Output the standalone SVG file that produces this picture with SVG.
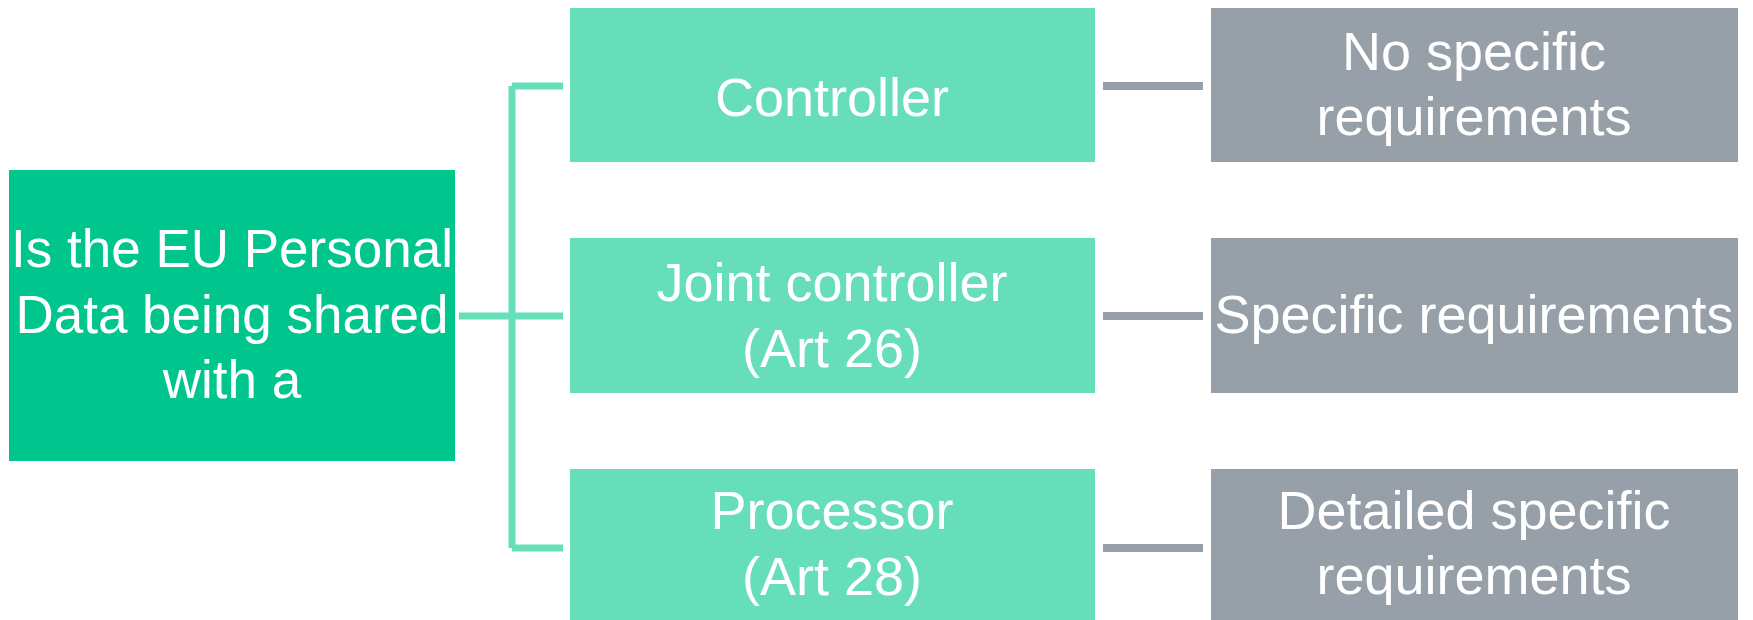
<svg xmlns="http://www.w3.org/2000/svg" width="1753" height="620" viewBox="0 0 1753 620">
<style>
.t{font-family:"Liberation Sans",Arial,sans-serif;font-size:54px;fill:#ffffff;text-anchor:middle}
.root{fill:#00C68E}
.mid{fill:#66DEB9}
.end{fill:#97A0A8}
.cg{stroke:#66DEB9;stroke-width:7;fill:none}
.cy{stroke:#979FA8;stroke-width:8;fill:none}
</style>
<rect width="1753" height="620" fill="#ffffff"/>
<g id="connectors">
<path class="cg" d="M459 316H563M512 86V548M512 86H563M512 548H563"/>
<path class="cy" d="M1103 86H1203M1103 316H1203M1103 548H1203"/>
</g>
<g id="question">
<rect class="root" x="9" y="170" width="446" height="291"/>
<text class="t" style="font-size:53px" x="232" y="267">Is the EU Personal</text>
<text class="t" style="font-size:53px" x="232" y="333">Data being shared</text>
<text class="t" style="font-size:53px" x="232" y="398">with a</text>
</g>
<g id="controller">
<rect class="mid" x="570" y="8" width="525" height="154"/>
<text class="t" x="832" y="116">Controller</text>
</g>
<g id="joint-controller">
<rect class="mid" x="570" y="238" width="525" height="155"/>
<text class="t" x="832" y="301">Joint controller</text>
<text class="t" x="832" y="367">(Art 26)</text>
</g>
<g id="processor">
<rect class="mid" x="570" y="469" width="525" height="151"/>
<text class="t" x="832" y="529">Processor</text>
<text class="t" x="832" y="595">(Art 28)</text>
</g>
<g id="no-specific">
<rect class="end" x="1211" y="8" width="527" height="154"/>
<text class="t" x="1474" y="70">No specific</text>
<text class="t" x="1474" y="135">requirements</text>
</g>
<g id="specific">
<rect class="end" x="1211" y="238" width="527" height="155"/>
<text class="t" x="1474" y="333">Specific requirements</text>
</g>
<g id="detailed">
<rect class="end" x="1211" y="469" width="527" height="151"/>
<text class="t" x="1474" y="529">Detailed specific</text>
<text class="t" x="1474" y="594">requirements</text>
</g>
</svg>
